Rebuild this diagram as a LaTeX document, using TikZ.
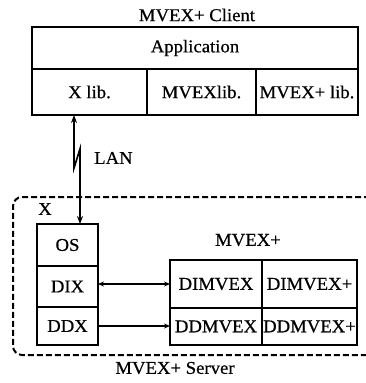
\documentclass[tikz,border=0pt]{standalone}
\usepackage{fontspec}
\setmainfont{Liberation Serif}[FakeStretch=1.04,FakeBold=0.6]
\usetikzlibrary{arrows.meta}
\begin{document}
\begin{tikzpicture}[x=1pt,y=-1pt,
  cell/.style={draw, line width=1.6pt, inner sep=0pt, outer sep=0pt, anchor=center},
  lbl/.style={inner sep=0pt, anchor=center},
  conn/.style={line width=1.2pt, -{Stealth[length=6pt,width=5pt]}},
  dconn/.style={line width=1.2pt, {Stealth[length=6pt,width=5pt]}-{Stealth[length=6pt,width=5pt]}},
  lan/.style={line width=1.7pt, {Stealth[length=8pt,width=6pt]}-{Stealth[length=8pt,width=6pt]}},
  dbox/.style={line width=2pt, dash pattern=on 6pt off 3pt, rounded corners=9pt}]
\fontsize{18}{20}\selectfont
\useasboundingbox (0,0) rectangle (366,383);
\clip (0,0) rectangle (366,383);
% client
\node[lbl] (ctitle) at (197,15) {MVEX+ Client};
\node[cell, minimum width=326, minimum height=42] (app) at (195,48) {Application};
\node[cell, minimum width=115, minimum height=46] (xlib) at (89.5,92) {X lib.};
\node[cell, minimum width=109, minimum height=46] (mvexlib) at (201.5,92) {MVEXlib.};
\node[cell, minimum width=102, minimum height=46] (mvexplib) at (307,92) {MVEX+ lib.};
% server
\draw[dbox] (370,197) -- (13,197) -- (13,355) -- (370,355);
\node[lbl] (xl) at (45,209) {X};
\node[cell, minimum width=61, minimum height=42] (os) at (67.5,245) {OS};
\node[cell, minimum width=61, minimum height=41] (dix) at (67.5,286.5) {DIX};
\node[cell, minimum width=61, minimum height=38] (ddx) at (67.5,326) {DDX};
\node[lbl] (mvexp) at (248,240) {MVEX+};
\node[cell, minimum width=92, minimum height=48] (dimvex) at (216,284) {DIMVEX};
\node[cell, minimum width=95, minimum height=48] (dimvexp) at (309.5,284) {DIMVEX+};
\node[cell, minimum width=92, minimum height=37] (ddmvex) at (216,326.5) {DDMVEX};
\node[cell, minimum width=95, minimum height=37] (ddmvexp) at (309.5,326.5) {DDMVEX+};
\node[lbl] (stitle) at (175,368) {MVEX+ Server};
% connectors
\draw[dconn] (dix.east |- dimvex) -- (dimvex.west);
\draw[conn] (ddx.east) -- (ddmvex.west |- ddx.east);
\coordinate (l1) at (74,168);
\coordinate (l2) at (80,149);
\draw[lan] (xlib.south -| l1) -- (l1) -- (l2) -- (os.north -| l2);
\node[lbl, anchor=west] (lanl) at (94,158) {LAN};
\end{tikzpicture}
\end{document}
